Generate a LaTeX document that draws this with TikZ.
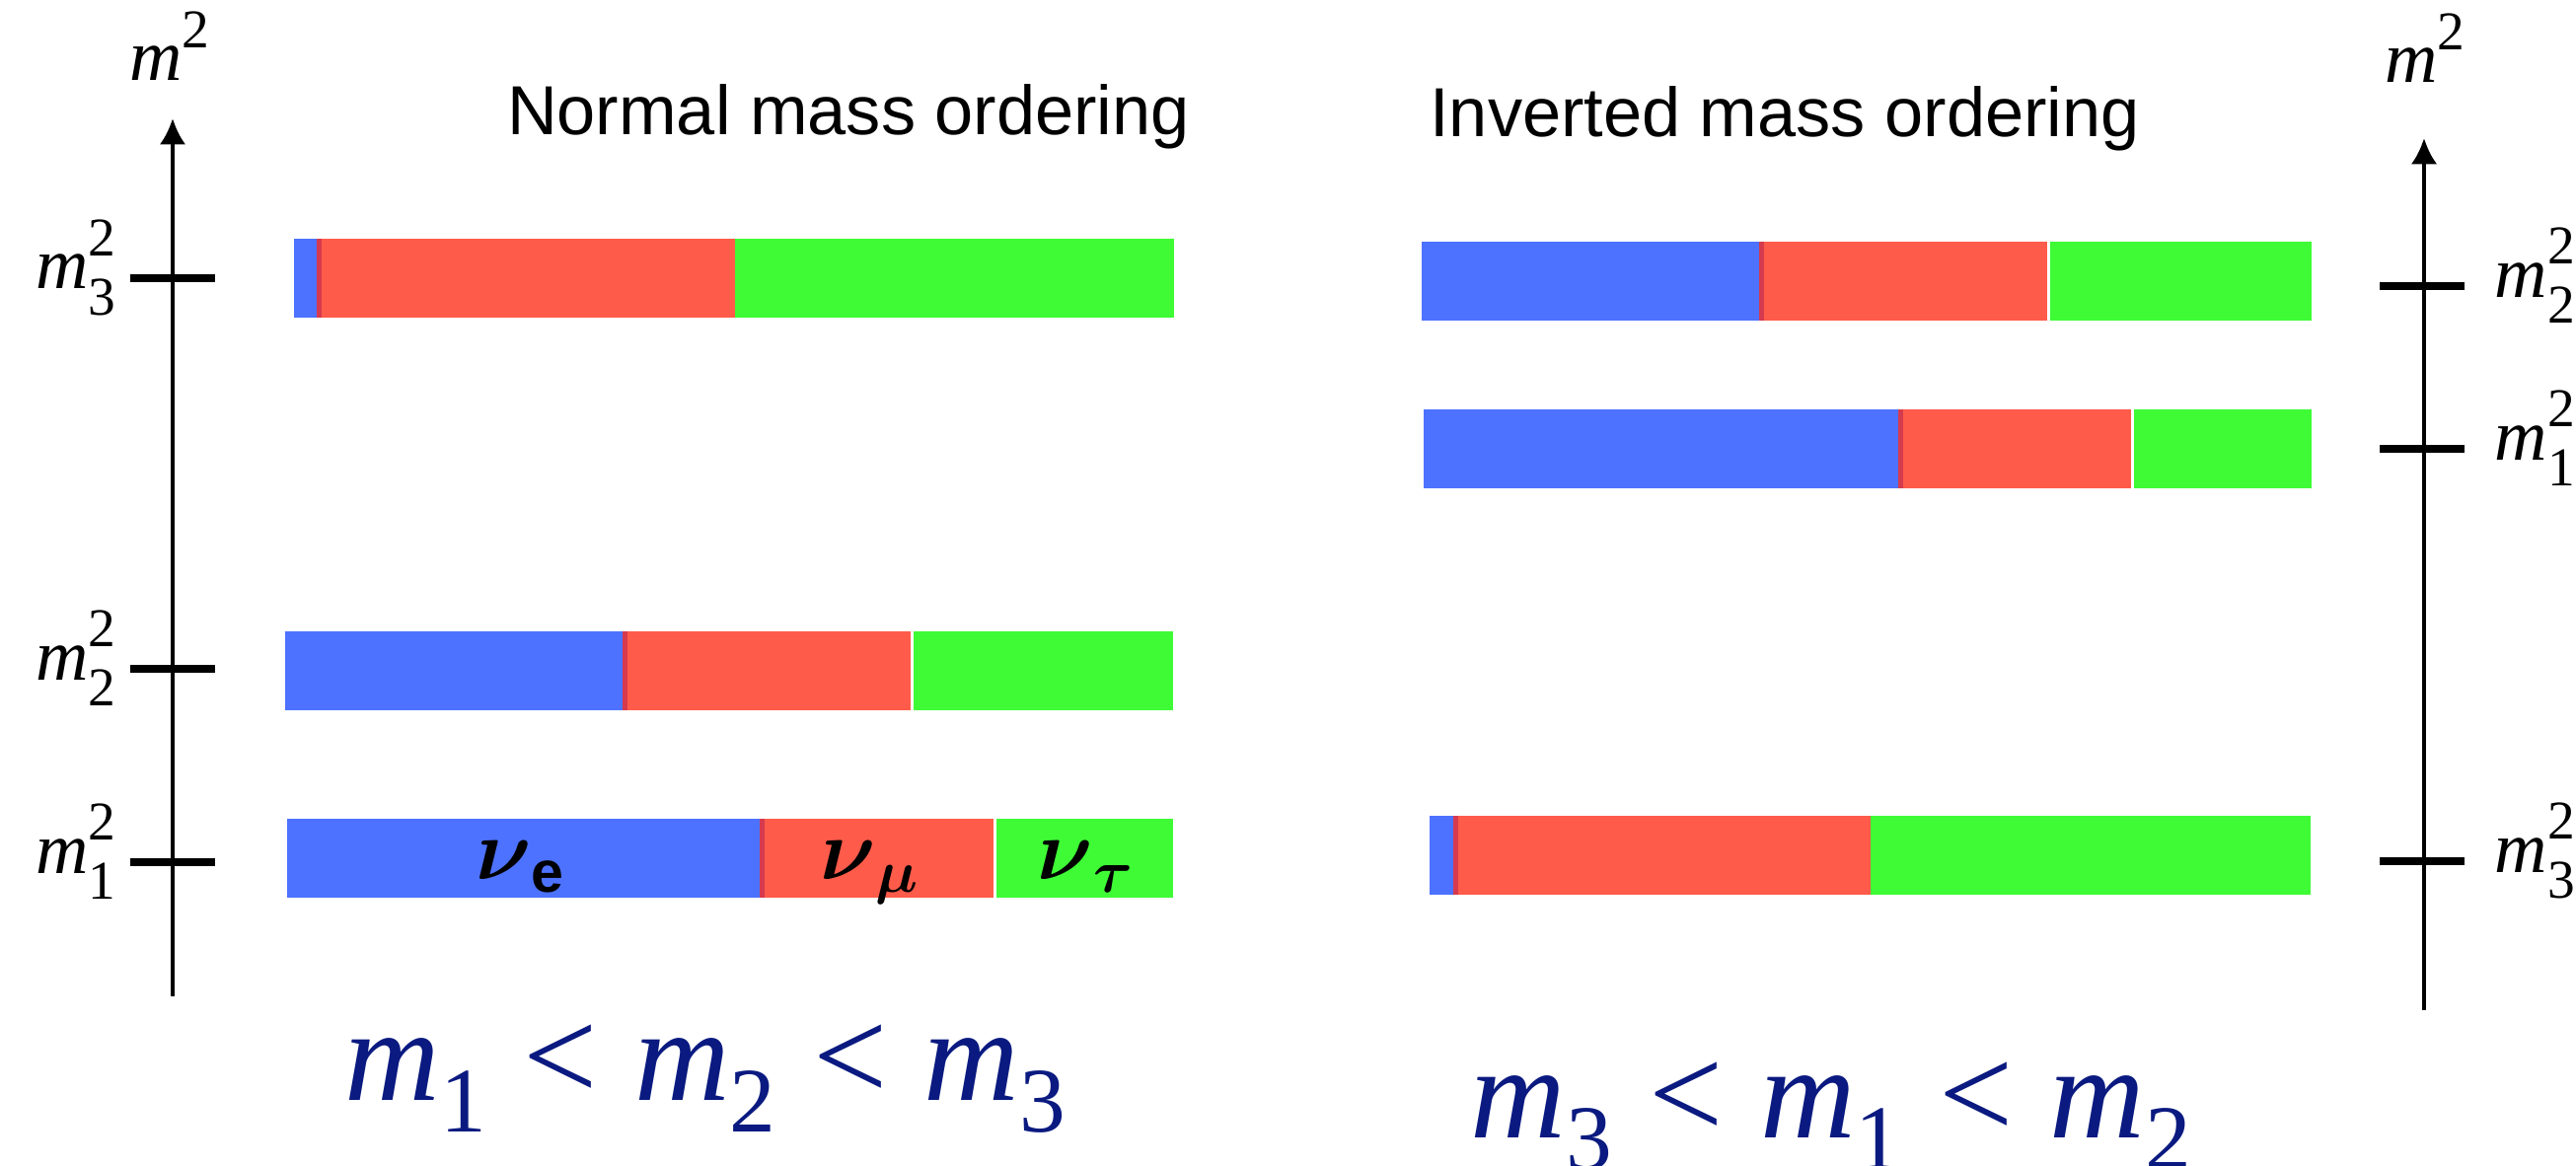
\documentclass[tikz,border=0pt]{standalone}
\usepackage{amsmath,amssymb}
\usepackage{fontspec}
\setmainfont{Liberation Serif}
\setsansfont{Liberation Sans}
\usepackage{xcolor}
\usepackage{tikz}
\usetikzlibrary{arrows.meta,positioning}
\definecolor{nublue}{RGB}{77,114,255}
\definecolor{nured}{RGB}{255,91,74}
\definecolor{nugreen}{RGB}{62,251,54}
\definecolor{nuedge}{RGB}{214,58,78}
\definecolor{ordblue}{RGB}{10,26,128}
% top, left, blue end, red end, green start, right
\newcommand{\flavbar}[6]{%
  \fill[nublue] (#2,#1) rectangle (#3,#1+80);
  \fill[nured] (#3,#1) rectangle (#4,#1+80);
  \fill[nuedge] (#3-2,#1) rectangle (#3+3,#1+80);
  \fill[nugreen] (#5,#1) rectangle (#6,#1+80);
}
\newcommand{\msq}[1]{\textit{m}\rlap{\raisebox{0.46em}{\scalebox{0.75}{2}}}\raisebox{-0.36em}{\scalebox{0.75}{#1}}}
\newcommand{\msub}[1]{\textit{m}\raisebox{-0.24em}{\scalebox{0.7}{#1}}}

\begin{document}
\begin{tikzpicture}[
  x=0.01cm,y=-0.01cm,
  axis/.style={line width=1.2pt,-{Latex[length=7.5pt,width=7.5pt]}},
  tickmark/.style={line width=2pt},
  title/.style={font=\sffamily\fontsize{20}{24}\selectfont,anchor=base,inner sep=0pt},
  lev/.style={font=\fontsize{21}{25}\selectfont,inner sep=0pt},
  flav/.style={font=\fontsize{24}{28}\selectfont,anchor=base,inner sep=0pt},
  order/.style={font=\fontsize{38}{44}\selectfont,text=ordblue,anchor=base,inner sep=0pt}
]
\useasboundingbox (0,0) rectangle (2611,1182);

\node[title] (nmo) at (860,137) {Normal mass ordering};
\node[title] (imo) at (1809,139) {Inverted mass ordering};

\coordinate (nobot) at (175,1010);
\coordinate (notop) at (175,120);
\coordinate (iobot) at (2457,1024);
\coordinate (iotop) at (2457,140);
\draw[axis] (nobot) -- (notop);
\draw[axis] (iobot) -- (iotop);
\node[lev,anchor=base] (nom) at (172,82) {\textit{m}\raisebox{0.46em}{\scalebox{0.75}{2}}};
\node[lev,anchor=base] (iom) at (2458,84) {\textit{m}\raisebox{0.46em}{\scalebox{0.75}{2}}};

\draw[tickmark] (132,282) -- (218,282);
\draw[tickmark] (132,678) -- (218,678);
\draw[tickmark] (132,874) -- (218,874);
\node[lev,anchor=base east] (no3) at (118,293) {\msq{3}};
\node[lev,anchor=base east] (no2) at (118,689) {\msq{2}};
\node[lev,anchor=base east] (no1) at (118,885) {\msq{1}};

\draw[tickmark] (2412,290) -- (2498,290);
\draw[tickmark] (2412,455) -- (2498,455);
\draw[tickmark] (2412,873) -- (2498,873);
\node[lev,anchor=base west] (io2) at (2528,301) {\msq{2}};
\node[lev,anchor=base west] (io1) at (2528,466) {\msq{1}};
\node[lev,anchor=base west] (io3) at (2528,884) {\msq{3}};

\flavbar{242}{298}{323}{745}{745}{1190}
\flavbar{640}{289}{633}{923}{926}{1189}
\flavbar{830}{291}{772}{1007}{1010}{1189}
\flavbar{245}{1441}{1785}{2075}{2078}{2343}
\flavbar{415}{1443}{1926}{2160}{2163}{2343}
\flavbar{827}{1449}{1475}{1896}{1896}{2342}

\node[flav] (nue) at (528,891) {$\boldsymbol{\nu}_{\textbf{\textsf{e}}}$};
\node[flav] (numu) at (882,891) {$\boldsymbol{\nu}_{\boldsymbol{\mu}}$};
\node[flav] (nutau) at (1101,891) {$\boldsymbol{\nu}_{\boldsymbol{\tau}}$};

\node[order] (normal) at (715,1115) {\msub{1}\hspace{0.28em}<\hspace{0.28em}\msub{2}\hspace{0.28em}<\hspace{0.28em}\msub{3}};
\node[order] (inverted) at (1856,1153) {\msub{3}\hspace{0.28em}<\hspace{0.28em}\msub{1}\hspace{0.28em}<\hspace{0.28em}\msub{2}};
\end{tikzpicture}
\end{document}
